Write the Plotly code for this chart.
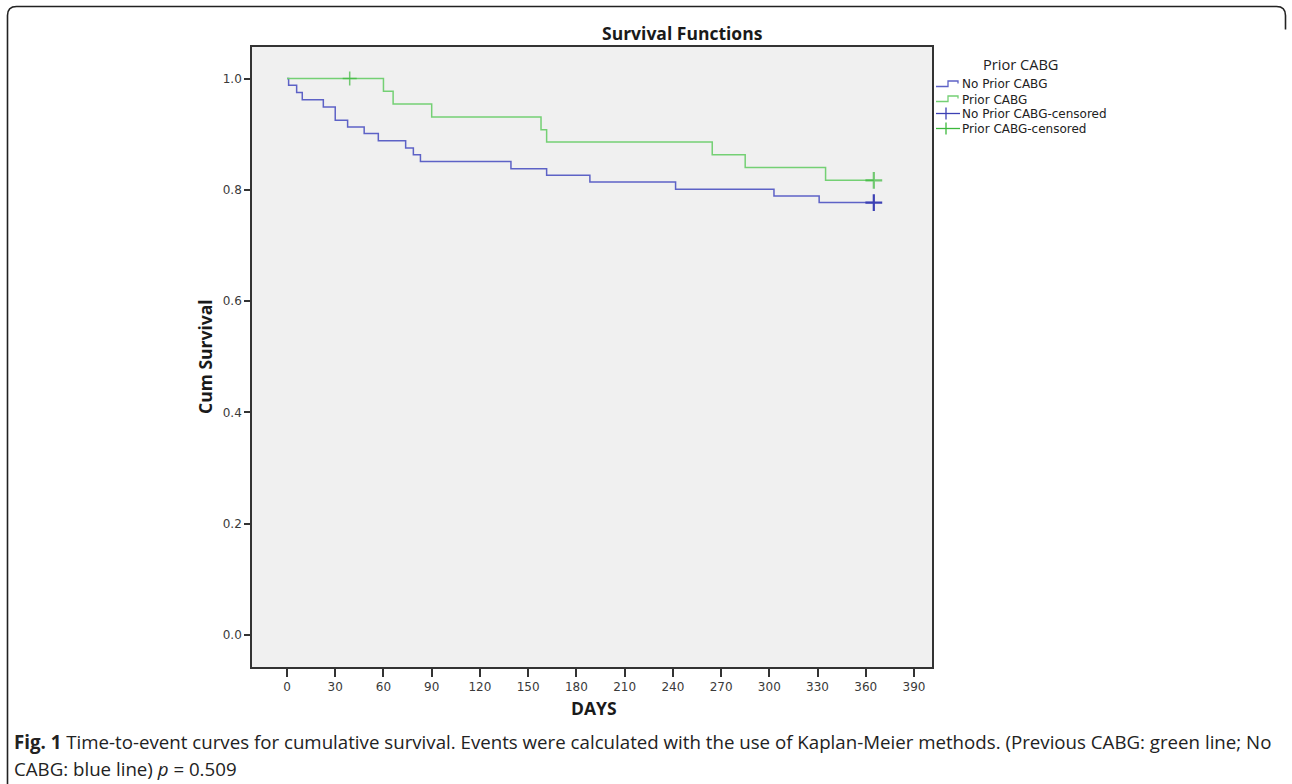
import plotly.graph_objects as go

# ---------------- data ----------------
prior_days = [0, 60, 66, 90, 158, 161.5, 264.5, 285, 335, 365]
prior_surv = [1.0, 0.977, 0.954, 0.931, 0.908, 0.886, 0.863, 0.840, 0.817, 0.817]
prior_cens_days = [39, 365]
prior_cens_surv = [1.0, 0.817]

noprior_days = [0, 1, 6, 9.5, 22.6, 30, 37.7, 48, 56.8, 73.8, 78.6, 83,
                139.3, 161.5, 188.4, 241.7, 302.9, 331, 365]
noprior_surv = [1.0, 0.988, 0.975, 0.962, 0.949, 0.925, 0.913, 0.901, 0.888,
                0.875, 0.863, 0.851, 0.838, 0.826, 0.814, 0.801, 0.789, 0.777, 0.777]
noprior_cens_days = [365]
noprior_cens_surv = [0.777]

x_ticks = list(range(0, 391, 30))
y_ticks = [0.0, 0.2, 0.4, 0.6, 0.8, 1.0]

legend_labels = ["No Prior CABG", "Prior CABG", "No Prior CABG-censored", "Prior CABG-censored"]

# ---------------- styling ----------------
W, H = 1292, 784
L, R, T, B = 252, 932, 47, 667  # plot area in pixels

def px(x):
    return (x - L) / (R - L)

def py(y):
    return (B - y) / (B - T)

BLUE_LINE = "#5d62c6"
BLUE_MARK = "#3c40b4"
GREEN_LINE = "#74d074"
GREEN_MARK = "#3cb83c"

fig = go.Figure()
fig.add_trace(go.Scatter(x=noprior_days, y=noprior_surv, mode="lines", line_shape="hv",
                         line=dict(color=BLUE_LINE, width=1.5), name=legend_labels[0]))
fig.add_trace(go.Scatter(x=prior_days, y=prior_surv, mode="lines", line_shape="hv",
                         line=dict(color=GREEN_LINE, width=1.5), name=legend_labels[1]))
fig.add_trace(go.Scatter(x=noprior_cens_days, y=noprior_cens_surv, mode="markers",
                         marker=dict(symbol="cross-thin", size=12, line=dict(color=BLUE_MARK, width=2.2)),
                         name=legend_labels[2]))
fig.add_trace(go.Scatter(x=prior_cens_days, y=prior_cens_surv, mode="markers",
                         marker=dict(symbol="cross-thin", size=[10, 12], line=dict(color=GREEN_MARK, width=[1.5, 2.2])),
                         name=legend_labels[3]))

# x range from pixel mapping
x0_px, x390_px = 287, 914
dpp = 390 / (x390_px - x0_px)
xr = [(L - x0_px) * dpp, (R - x0_px) * dpp]
y1_px, y0_px = 78.5, 635
upp = 1 / (y0_px - y1_px)
yr = [-(B - y0_px) * upp, 1 + (y1_px - T) * upp]

tickfont = dict(family="DejaVu Sans", size=12, color="#3a3a3a")
fig.update_xaxes(range=xr, tickvals=x_ticks, ticks="outside", ticklen=8, tickwidth=1.5,
                 tickcolor="#333", showline=True, linewidth=1.6, linecolor="#333", mirror=True,
                 showgrid=False, zeroline=False, tickfont=tickfont)
fig.update_yaxes(range=yr, tickvals=y_ticks, tickformat=".1f", ticks="outside", ticklen=6,
                 tickwidth=1.5, tickcolor="#333", showline=True, linewidth=1.6, linecolor="#333",
                 mirror=True, showgrid=False, zeroline=False, tickfont=tickfont)

ann = []
bold = dict(family="Open Sans", size=17.5, color="#1a1a1a")
ann.append(dict(x=px(682), y=py(33), xref="paper", yref="paper", text="<b>Survival Functions</b>",
                showarrow=False, font=bold, xanchor="center", yanchor="middle"))
ann.append(dict(x=px(594), y=py(708), xref="paper", yref="paper", text="<b>DAYS</b>",
                showarrow=False, font=bold, xanchor="center", yanchor="middle"))
ann.append(dict(x=px(205), y=py(357), xref="paper", yref="paper", text="<b>Cum Survival</b>",
                showarrow=False, font=bold, xanchor="center", yanchor="middle", textangle=-90))

# legend (drawn manually)
ann.append(dict(x=px(1020), y=py(64), xref="paper", yref="paper", text="Prior CABG",
                showarrow=False, font=dict(family="Open Sans", size=14.6, color="#222"),
                xanchor="center", yanchor="middle"))
leg_y = [84.5, 99.5, 113.5, 128.5]
leg_cols = [BLUE_LINE, GREEN_LINE, BLUE_MARK, GREEN_MARK]
shapes = []
for i, (lab, yy, c) in enumerate(zip(legend_labels, leg_y, leg_cols)):
    ann.append(dict(x=px(960), y=py(yy), xref="paper", yref="paper", text=lab, showarrow=False,
                    font=dict(family="DejaVu Sans", size=12, color="#222"),
                    xanchor="left", yanchor="middle"))
    if i < 2:
        path = (f"M {px(936)},{py(yy+2)} L {px(948)},{py(yy+2)} L {px(948)},{py(yy-3.5)} "
                f"L {px(958)},{py(yy-3.5)} L {px(958)},{py(yy-1)}")
        shapes.append(dict(type="path", path=path, xref="paper", yref="paper",
                           line=dict(color=c, width=1.3)))
    else:
        shapes.append(dict(type="line", x0=px(936), x1=px(960), y0=py(yy), y1=py(yy),
                           xref="paper", yref="paper", line=dict(color=c, width=1.3)))
        shapes.append(dict(type="line", x0=px(946), x1=px(946), y0=py(yy - 6), y1=py(yy + 6),
                           xref="paper", yref="paper", line=dict(color=c, width=1.3)))

# outer rounded box (left side full, top, short top-right corner)
r = 9
bx0, by0, bx1 = 7.5, 6.5, 1285.5
box = (f"M {px(bx0)},{py(784)} L {px(bx0)},{py(by0 + r)} "
       f"Q {px(bx0)},{py(by0)} {px(bx0 + r)},{py(by0)} "
       f"L {px(bx1 - r)},{py(by0)} Q {px(bx1)},{py(by0)} {px(bx1)},{py(by0 + r)} "
       f"L {px(bx1)},{py(by0 + r + 14)}")
shapes.append(dict(type="path", path=box, xref="paper", yref="paper",
                   line=dict(color="#222", width=1.6), layer="above"))

capfont = dict(family="Open Sans", size=18.7, color="#222")
ann.append(dict(x=px(12), y=py(741), xref="paper", yref="paper",
                text="<b>Fig. 1</b> Time-to-event curves for cumulative survival. Events were calculated with the use of Kaplan-Meier methods. (Previous CABG: green line; No",
                showarrow=False, font=capfont, xanchor="left", yanchor="middle"))
ann.append(dict(x=px(12), y=py(768), xref="paper", yref="paper",
                text="CABG: blue line) <i>p</i> = 0.509",
                showarrow=False, font=capfont, xanchor="left", yanchor="middle"))

fig.update_layout(width=W, height=H, margin=dict(l=L, r=W - R, t=T, b=H - B),
                  plot_bgcolor="#f0f0f0", paper_bgcolor="white", showlegend=False,
                  annotations=ann, shapes=shapes)

fig.write_html("out.html", config={"displayModeBar": False},
               post_script="document.body.style.margin='0';document.body.style.overflow='hidden';")
